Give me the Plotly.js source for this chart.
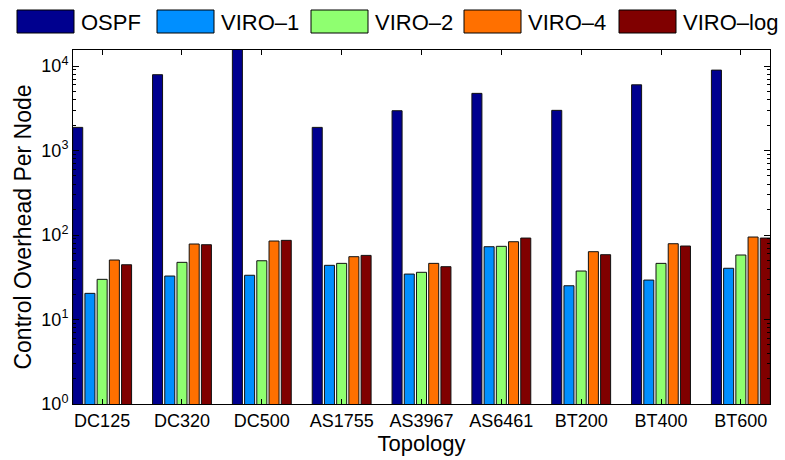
<!DOCTYPE html>
<html>
<head>
<meta charset="utf-8">
<script src="https://cdn.plot.ly/plotly-3.0.1.min.js"></script>
<style>html,body{margin:0;padding:0;background:#fff;}</style>
</head>
<body>
<div id="chart" style="width:785px;height:460px;"></div>
<script>
// ---- data ----
const categories = ["DC125", "DC320", "DC500", "AS1755", "AS3967", "AS6461", "BT200", "BT400", "BT600"];
const seriesNames = ["OSPF", "VIRO\u20131", "VIRO\u20132", "VIRO\u20134", "VIRO\u2013log"];
const ospf    = [1880, 7900, 17000, 1880, 2960, 4750, 2990, 6000, 8950];
const viro1   = [20.4, 32.7, 33.4, 43.8, 34.5, 72.7, 25.1, 29.3, 40.4];
const viro2   = [29.9, 47.5, 49.6, 46.2, 36.2, 73.5, 37.5, 46.2, 58.0];
const viro4   = [50.6, 78.3, 84.9, 55.4, 46.2, 83.3, 63.5, 78.9, 94.7];
const viroLog = [44.5, 76.8, 86.5, 57.4, 42.2, 92.1, 58.5, 74.1, 92.1];
const yTickVals = [1, 10, 100, 1000, 10000];
const yTickText = ["10<sup>0</sup>", "10<sup>1</sup>", "10<sup>2</sup>", "10<sup>3</sup>", "10<sup>4</sup>"];

// ---- styles ----
const colors = ["#00008F", "#008FFF", "#8FFF70", "#FF7000", "#800000"];
const allValues = [ospf, viro1, viro2, viro4, viroLog];
const FONT = "Liberation Sans, Arial, Helvetica, sans-serif";

const traces = allValues.map((vals, i) => ({
  type: "bar",
  name: seriesNames[i],
  x: categories,
  y: vals,
  marker: {color: colors[i], line: {color: "#111", width: 1}},
  showlegend: false,
  hoverinfo: "x+y+name"
}));

// ---- custom legend (layout only) ----
const W = 785, H = 460, ML = 73, MR = 15, MT = 50, MB = 56;
const PW = W - ML - MR, PH = H - MT - MB;
const px2x = p => (p - ML) / PW;
const py2y = p => 1 - (p - MT) / PH;
const legendLeft = [17, 157, 311, 464, 619];
const boxW = 57, boxTop = 10, boxBot = 33;

const shapes = [], annotations = [];
seriesNames.forEach((n, i) => {
  const x0 = legendLeft[i];
  shapes.push({
    type: "rect", xref: "paper", yref: "paper",
    x0: px2x(x0), x1: px2x(x0 + boxW), y0: py2y(boxBot), y1: py2y(boxTop),
    fillcolor: colors[i], line: {color: "#000", width: 1}
  });
  annotations.push({
    xref: "paper", yref: "paper", x: px2x(x0 + boxW + 5), y: py2y((boxTop + boxBot) / 2 + 1),
    xanchor: "left", yanchor: "middle", showarrow: false, text: n,
    font: {family: FONT, size: 22, color: "#000"}
  });
});

const layout = {
  width: W, height: H,
  margin: {l: ML, r: MR, t: MT, b: MB, pad: 0},
  paper_bgcolor: "#fff", plot_bgcolor: "#fff",
  font: {family: FONT, color: "#000"},
  barmode: "group", bargap: 0.235, bargroupgap: 0.18,
  showlegend: false,
  xaxis: {
    type: "category", range: [-0.365, 8.365],
    showline: true, linecolor: "#000", linewidth: 1, mirror: "ticks",
    ticks: "inside", ticklen: 5, tickcolor: "#000",
    tickfont: {family: FONT, size: 18, color: "#000"},
    title: {text: "Topology", font: {family: FONT, size: 22, color: "#000"}, standoff: 2},
    showgrid: false, zeroline: false
  },
  yaxis: {
    type: "log", range: [0, 4.19],
    showline: true, linecolor: "#000", linewidth: 1, mirror: "ticks",
    ticks: "inside", ticklen: 6, tickcolor: "#000",
    tickvals: yTickVals, ticktext: yTickText,
    tickfont: {family: FONT, size: 18, color: "#000"},
    minor: {ticks: "inside", ticklen: 3, tickcolor: "#000", dtick: "D1", showgrid: false},
    title: {text: "Control Overhead Per Node", font: {family: FONT, size: 23, color: "#000"}, standoff: 3},
    showgrid: false, zeroline: false
  },
  shapes: shapes,
  annotations: annotations
};

Plotly.newPlot("chart", traces, layout, {displayModeBar: false, staticPlot: true});
</script>
</body>
</html>
